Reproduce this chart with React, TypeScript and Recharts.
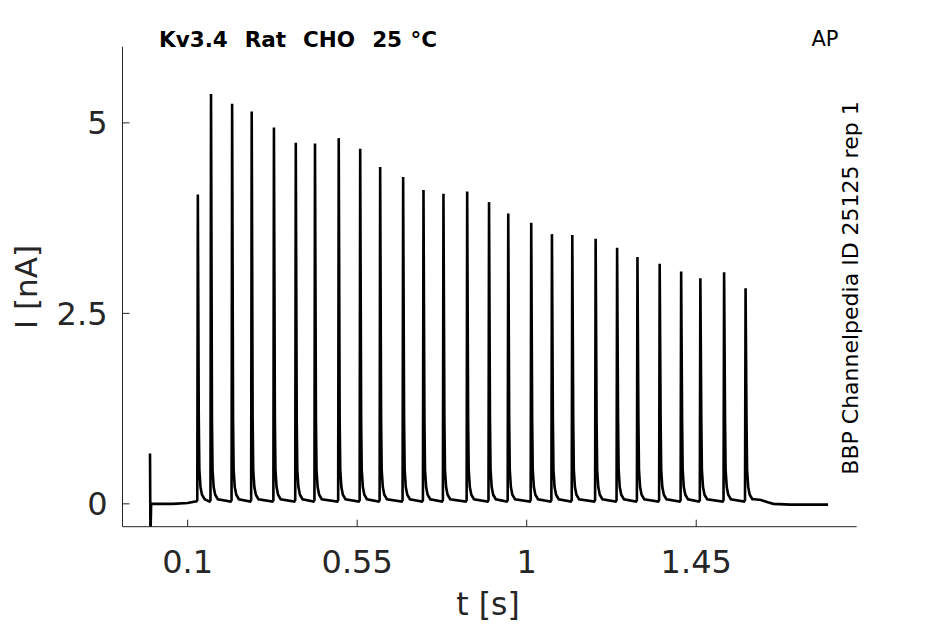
import React from "react"
import { LineChart, Line, XAxis, YAxis } from "recharts"

const FONT = "'DejaVu Sans', sans-serif"
const INK = "#262626"

// spike onset times [s] and peak currents [nA]
const spikeTimes = [
  0.127, 0.162, 0.218, 0.27, 0.329, 0.387, 0.438, 0.501, 0.558, 0.611, 0.672, 0.726, 0.779, 0.842,
  0.9, 0.951, 1.012, 1.067, 1.121, 1.183, 1.24, 1.294, 1.353, 1.41, 1.461, 1.524, 1.581,
]
const spikePeaks = [
  4.06, 5.38, 5.25, 5.15, 4.94, 4.74, 4.73, 4.8, 4.66, 4.42, 4.29, 4.12, 4.07, 4.1, 3.96, 3.81,
  3.69, 3.54, 3.53, 3.48, 3.36, 3.24, 3.15, 3.05, 2.96, 3.04, 2.83,
]
// shape of one spike: [offset from peak in s, current in nA] (null = use peak)
const spikeShape: [number, number | null][] = [
  [-0.004, 0.03],
  [-0.0015, 0.05],
  [0, null],
  [0.0025, 1.1],
  [0.004, 0.45],
  [0.007, 0.22],
  [0.011, 0.12],
  [0.018, 0.06],
]
// trace segments outside the spike train: [t, I]
const leadIn: [number, number][] = [
  [0, 0.66],
  [0.0012, -0.45],
  [0.003, 0.0],
  [0.06, 0.0],
  [0.1, 0.01],
  [0.12, 0.03],
]
const tail: [number, number][] = [
  [1.605, 0.06],
  [1.622, 0.05],
  [1.64, 0.02],
  [1.655, 0.0],
  [1.7, -0.01],
  [1.8, -0.01],
]

const xTicks = [0.1, 0.55, 1, 1.45]
const yTicks = [0, 2.5, 5]

const trace: { t: number; i: number }[] = [
  ...leadIn.map(([t, i]) => ({ t, i })),
  ...spikeTimes.flatMap((t0, k) =>
    spikeShape.map(([dt, v]) => ({ t: t0 + dt, i: v === null ? spikePeaks[k] : v }))
  ),
  ...tail.map(([t, i]) => ({ t, i })),
]

export default function App() {
  return (
    <div style={{ position: "absolute", left: 0, top: 0, width: 945, height: 624, background: "#fff" }}>
      <LineChart
        width={945}
        height={624}
        data={trace}
        margin={{ top: 46.7, right: 88.3, bottom: 0, left: 0 }}
      >
        <XAxis
          type="number"
          dataKey="t"
          domain={[-0.073, 1.876]}
          ticks={xTicks}
          allowDataOverflow
          height={97.3}
          tickSize={-7}
          tickMargin={31}
          tick={{ fontSize: 32, fill: INK, fontFamily: FONT }}
          axisLine={{ stroke: INK }}
          tickLine={{ stroke: INK }}
        />
        <YAxis
          type="number"
          domain={[-0.3, 6]}
          ticks={yTicks}
          allowDataOverflow
          width={122.5}
          tickSize={-7}
          tickMargin={22}
          tick={{ fontSize: 32, fill: INK, fontFamily: FONT }}
          axisLine={{ stroke: INK }}
          tickLine={{ stroke: INK }}
        />
        <Line
          type="linear"
          dataKey="i"
          stroke="#000"
          strokeWidth={2.6}
          dot={false}
          isAnimationActive={false}
        />
      </LineChart>
      <svg
        width={945}
        height={624}
        style={{ position: "absolute", left: 0, top: 0, pointerEvents: "none" }}
        fontFamily={FONT}
      >
        <text x={159} y={46.7} fontSize={21.5} fontWeight="bold" fill="#000" style={{ wordSpacing: 1 }}>
          Kv3.4{"\u00a0\u00a0"}Rat{"\u00a0\u00a0"}CHO{"\u00a0\u00a0"}25 °C
        </text>
        <text x={825} y={46} fontSize={21} textAnchor="middle" fill="#000">
          AP
        </text>
        <text x={858} y={288} fontSize={22} textAnchor="middle" fill="#000" transform="rotate(-90 858 288)">
          BBP Channelpedia ID 25125 rep 1
        </text>
        <text x={37} y={287} fontSize={31} textAnchor="middle" fill={INK} transform="rotate(-90 37 287)">
          I [nA]
        </text>
        <text x={488} y={615} fontSize={31.5} textAnchor="middle" fill={INK}>
          t [s]
        </text>
      </svg>
    </div>
  )
}
